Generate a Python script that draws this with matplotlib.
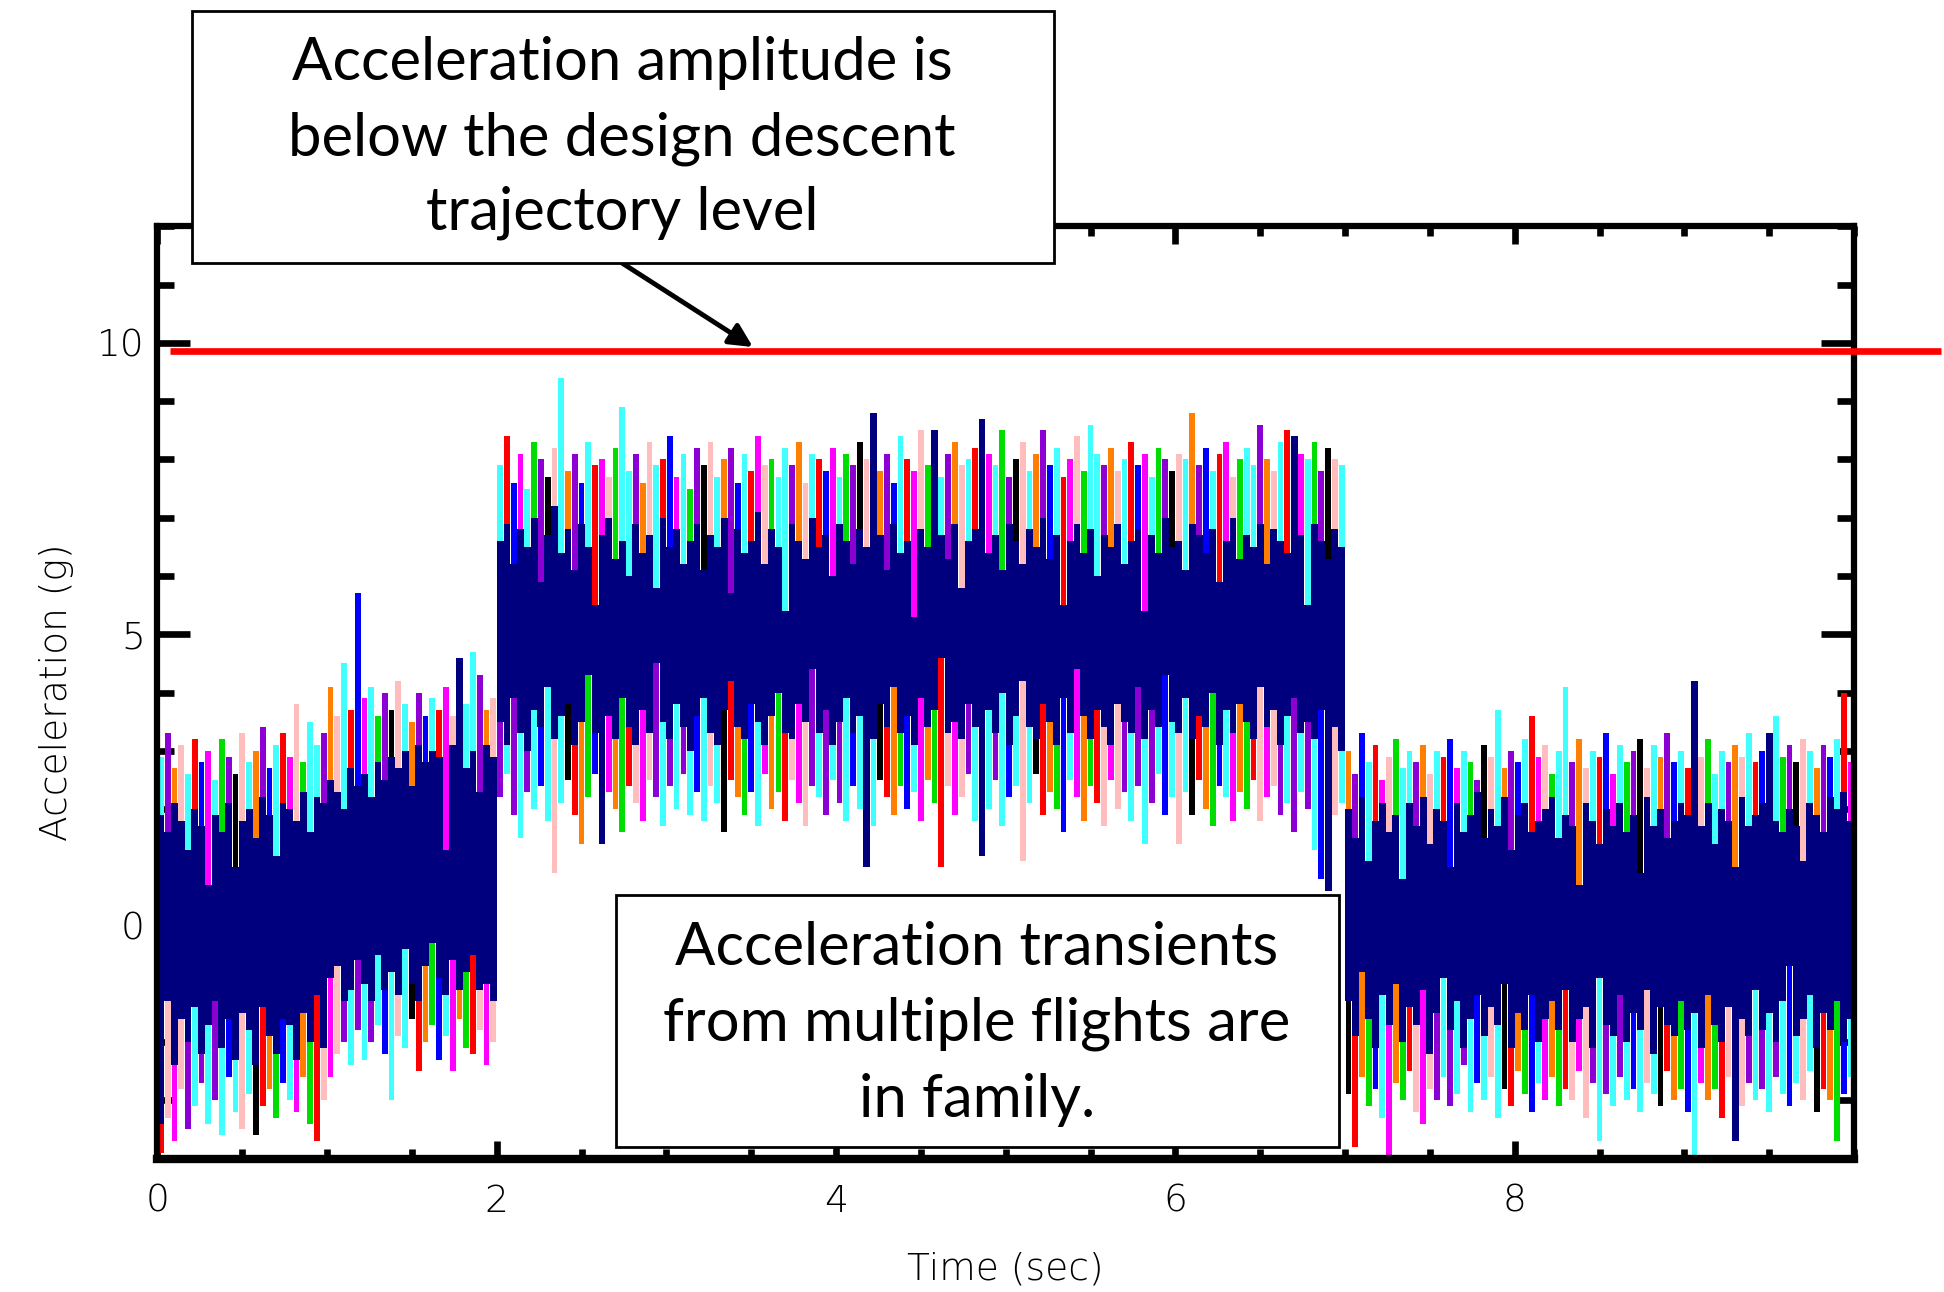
import matplotlib
matplotlib.use("Agg")
import matplotlib.pyplot as plt
import numpy as np
from matplotlib.patches import Rectangle, FancyArrowPatch
from matplotlib.ticker import FixedLocator, MultipleLocator

# sample columns (s): 0-2 s, 2-7 s, 7-10 s
t_a = np.linspace(0.02, 1.98, 50)
t_b = np.linspace(2.02, 6.98, 125)
t_c = np.linspace(7.02, 9.98, 75)

# edge of the dense (navy) band, upper / lower, in g
a_navy_hi = [1.9, 1.6, 2.1, 1.8, 1.3, 2.0, 1.7, 0.7, 1.9, 1.6,
             2.1, 1.0, 1.8, 2.0, 1.5, 2.2, 1.9, 1.2, 2.1, 2.0,
             1.8, 2.3, 1.6, 2.2, 2.1, 2.5, 2.3, 2.0, 2.7, 2.4,
             2.6, 2.2, 2.8, 2.5, 2.9, 2.7, 3.0, 2.4, 3.1, 2.8,
             3.0, 2.9, 1.3, 3.1, 4.6, 2.7, 3.0, 2.3, 3.1, 2.9]
a_navy_lo = [-3.4, -1.3, -2.4, -1.6, -2.0, -1.4, -2.2, -1.7, -1.3, -2.1,
             -1.6, -2.3, -1.5, -1.8, -2.4, -1.4, -1.9, -2.2, -1.6, -1.7,
             -2.3, -1.5, -2.0, -1.2, -2.1, -0.9, -0.7, -1.3, -1.1, -0.6,
             -1.0, -1.3, -0.5, -1.1, -0.8, -1.2, -0.4, -1.0, -1.3, -0.7,
             -0.3, -0.9, -1.2, -0.6, -1.1, -0.8, -0.5, -1.1, -1.0, -1.3]
# extreme of the other flights, upper / lower
a_peak_hi = [2.9, 3.3, 2.7, 3.1, 2.6, 3.2, 2.8, 3.0, 2.5, 3.2,
             2.9, 2.6, 3.3, 2.8, 3.0, 3.4, 2.7, 3.1, 3.3, 2.9,
             3.8, 2.8, 3.5, 3.1, 3.3, 4.1, 3.6, 4.5, 3.7, 5.7,
             3.9, 4.1, 3.6, 4.0, 3.7, 4.2, 3.8, 3.5, 4.0, 3.6,
             3.9, 3.7, 4.1, 3.6, 4.0, 3.8, 4.7, 4.3, 3.7, 3.9]
a_peak_lo = [-3.9, -3.3, -3.7, -2.8, -3.5, -3.1, -2.7, -3.4, -3.0, -3.6,
             -2.6, -3.2, -3.5, -2.9, -3.6, -3.1, -2.8, -3.3, -2.7, -3.0,
             -3.2, -2.6, -3.4, -3.7, -3.0, -2.6, -2.2, -2.0, -2.4, -1.8,
             -2.3, -2.0, -1.7, -2.2, -3.0, -1.9, -2.1, -1.6, -2.5, -2.0,
             -1.7, -2.3, -1.9, -2.5, -1.6, -2.1, -2.2, -1.8, -2.4, -2.0]

b_navy_hi = [6.6, 6.9, 6.2, 6.8, 6.5, 7.0, 5.9, 6.7, 7.2, 6.4,
             6.8, 6.1, 6.9, 6.5, 5.5, 6.7, 7.0, 6.3, 6.6, 6.0,
             6.9, 6.4, 6.7, 5.8, 7.0, 6.5, 6.8, 6.2, 6.6, 6.9,
             6.1, 6.7, 6.5, 7.0, 5.7, 6.8, 6.4, 6.6, 7.1, 6.2,
             6.8, 6.5, 5.4, 6.9, 6.6, 6.3, 7.0, 6.5, 6.7, 6.0,
             6.9, 6.6, 6.2, 6.8, 6.5, 8.8, 6.7, 6.1, 6.9, 6.4,
             6.6, 5.3, 6.8, 6.5, 8.5, 6.7, 6.3, 6.9, 5.8, 6.6,
             6.8, 8.7, 6.4, 6.7, 6.1, 6.9, 6.6, 6.2, 6.8, 6.5,
             7.0, 6.3, 6.7, 5.5, 6.6, 6.9, 6.4, 6.8, 6.0, 6.7,
             6.5, 6.9, 6.2, 6.6, 6.8, 5.4, 6.7, 6.4, 7.0, 6.5,
             6.6, 6.1, 6.9, 6.7, 6.4, 6.8, 5.9, 6.6, 7.0, 6.3,
             6.7, 6.5, 6.9, 6.2, 6.8, 6.6, 6.4, 8.4, 6.7, 5.5,
             6.9, 6.6, 6.3, 6.8, 6.5]
b_navy_lo = [3.5, 3.1, 3.9, 3.3, 3.0, 3.7, 3.4, 4.1, 3.2, 3.6,
             3.8, 3.1, 3.5, 4.3, 3.3, 1.4, 3.6, 3.2, 3.9, 3.4,
             3.1, 3.7, 3.3, 4.5, 3.5, 3.2, 3.8, 3.4, 3.0, 3.6,
             3.9, 3.3, 3.1, 3.7, 4.2, 3.4, 3.2, 3.8, 3.5, 3.1,
             3.6, 4.0, 3.3, 3.2, 3.8, 3.5, 4.4, 3.3, 3.7, 3.1,
             3.5, 3.9, 3.3, 3.6, 1.0, 3.2, 3.8, 3.4, 4.1, 3.3,
             3.6, 3.1, 3.9, 3.4, 3.7, 4.6, 3.3, 3.5, 3.2, 3.8,
             3.4, 1.2, 3.7, 3.3, 4.0, 3.1, 3.6, 4.2, 3.4, 3.2,
             3.8, 3.5, 3.1, 3.9, 3.3, 4.4, 3.6, 3.2, 3.7, 3.4,
             3.1, 3.8, 3.5, 3.3, 4.1, 3.2, 3.7, 3.4, 4.3, 3.5,
             3.3, 3.9, 3.2, 3.6, 3.4, 4.0, 3.1, 3.7, 3.3, 3.8,
             3.5, 3.2, 4.1, 3.4, 3.7, 3.1, 3.6, 3.9, 3.3, 3.5,
             3.2, 3.7, 0.6, 3.4, 3.0]
b_peak_hi = [7.9, 8.4, 7.6, 8.1, 7.5, 8.3, 8.0, 7.7, 8.2, 9.4,
             7.8, 8.1, 7.6, 8.3, 7.9, 8.0, 7.7, 8.2, 8.9, 7.8,
             8.1, 7.6, 8.3, 7.9, 8.0, 8.4, 7.7, 8.1, 7.5, 8.2,
             7.9, 8.3, 7.7, 8.0, 8.2, 7.6, 8.1, 7.8, 8.4, 7.9,
             8.0, 7.7, 8.2, 7.9, 8.3, 7.6, 8.1, 8.0, 7.8, 8.2,
             7.7, 8.1, 7.9, 8.3, 8.0, 8.2, 7.8, 8.1, 7.6, 8.4,
             8.0, 7.8, 8.5, 7.9, 8.2, 7.7, 8.1, 8.3, 7.9, 8.0,
             8.2, 7.8, 8.1, 7.9, 8.5, 7.7, 8.0, 8.3, 7.8, 8.1,
             8.5, 7.9, 8.2, 7.7, 8.0, 8.4, 7.8, 8.6, 8.1, 7.9,
             8.2, 7.8, 8.0, 8.3, 7.9, 8.1, 7.7, 8.2, 8.0, 7.8,
             8.1, 8.0, 8.8, 7.9, 8.2, 7.8, 8.1, 8.3, 7.7, 8.0,
             8.2, 7.9, 8.6, 8.0, 7.8, 8.3, 8.5, 7.9, 8.1, 8.0,
             8.3, 7.8, 8.2, 8.0, 7.9]
b_peak_lo = [2.2, 2.6, 1.9, 1.5, 2.3, 2.0, 2.4, 1.8, 0.9, 2.1,
             2.5, 1.9, 1.4, 2.2, 2.6, 1.8, 2.3, 2.0, 1.6, 2.4,
             2.1, 1.8, 2.5, 2.2, 1.7, 2.4, 2.0, 2.6, 1.9, 2.3,
             1.8, 2.4, 2.1, 1.6, 2.5, 2.2, 1.9, 2.3, 1.7, 2.6,
             2.0, 2.3, 1.8, 2.5, 2.1, 1.7, 2.4, 2.2, 1.9, 2.5,
             2.1, 1.8, 2.4, 2.0, 2.3, 1.7, 2.5, 2.2, 1.9, 2.4,
             2.0, 2.3, 1.8, 2.5, 2.1, 1.0, 2.4, 1.9, 2.2, 2.6,
             1.8, 2.3, 2.0, 2.5, 1.7, 2.2, 2.4, 1.1, 2.1, 2.6,
             1.9, 2.3, 2.0, 1.6, 2.5, 2.2, 1.8, 2.4, 2.1, 1.7,
             2.5, 2.0, 2.3, 1.8, 2.4, 1.4, 2.1, 2.6, 1.9, 2.2,
             1.4, 2.3, 1.9, 2.5, 2.0, 1.7, 2.4, 2.2, 1.8, 2.3,
             2.0, 2.5, 1.8, 2.2, 2.4, 1.9, 2.1, 1.6, 2.3, 2.0,
             1.3, 0.8, 2.2, 1.9, 2.1]

c_navy_hi = [2.0, 1.5, 2.2, 1.1, 1.8, 2.1, 1.6, 1.9, 0.8, 2.1,
             1.7, 2.2, 1.4, 2.0, 1.8, 1.0, 2.1, 1.6, 1.9, 2.3,
             1.5, 2.0, 1.7, 2.2, 1.3, 1.9, 2.1, 1.6, 1.8, 2.0,
             2.2, 1.5, 1.9, 1.7, 0.7, 2.1, 1.8, 1.4, 2.0, 1.7,
             2.1, 1.6, 1.9, 0.9, 2.2, 1.7, 2.0, 1.5, 1.8, 2.1,
             1.9, 4.2, 1.7, 2.1, 1.4, 2.0, 1.8, 1.0, 2.2, 1.7,
             1.9, 2.1, 3.3, 1.8, 1.6, 2.0, 1.7, 1.1, 2.1, 1.9,
             1.6, 2.2, 2.0, 2.3, 1.8]
c_navy_lo = [-1.3, -1.9, -0.8, -1.6, -2.1, -1.2, -1.7, -1.0, -2.0, -1.4,
             -1.7, -1.1, -2.2, -1.5, -0.9, -1.8, -1.3, -2.1, -1.6, -1.2,
             -1.9, -1.4, -1.7, -1.0, -2.1, -1.5, -1.8, -1.2, -2.0, -1.6,
             -1.3, -1.8, -1.1, -2.0, -1.6, -1.4, -2.1, -0.9, -1.7, -1.9,
             -1.2, -2.0, -1.5, -1.8, -1.1, -2.2, -1.4, -1.7, -1.9, -1.3,
             -1.8, -1.5, -2.1, -1.2, -1.7, -2.0, -1.4, -3.7, -1.6, -1.9,
             -1.1, -1.8, -1.5, -2.0, -1.3, -0.7, -1.9, -1.6, -1.2, -2.1,
             -1.5, -1.8, -1.3, -2.0, -1.6]
c_peak_hi = [3.0, 2.6, 3.3, 2.8, 3.1, 2.5, 2.9, 3.2, 2.7, 3.0,
             2.8, 3.1, 2.6, 3.0, 2.9, 3.2, 2.7, 3.0, 2.8, 2.5,
             3.1, 2.9, 3.7, 2.7, 3.0, 2.8, 3.2, 3.6, 2.9, 3.1,
             2.6, 3.0, 4.1, 2.8, 3.2, 2.7, 3.0, 2.9, 3.3, 2.6,
             3.1, 2.8, 3.0, 3.2, 2.7, 3.1, 2.9, 3.3, 2.8, 3.0,
             2.7, 3.0, 2.9, 3.2, 2.6, 3.0, 2.8, 3.1, 2.9, 3.3,
             2.8, 3.0, 2.7, 3.6, 2.9, 3.1, 2.8, 3.2, 3.0, 2.7,
             3.1, 2.9, 3.2, 4.0, 2.8]
c_peak_lo = [-2.9, -3.8, -2.6, -3.1, -2.8, -3.3, -4.1, -2.7, -3.0, -2.5,
             -3.2, -3.4, -2.8, -3.0, -2.6, -3.1, -2.9, -2.4, -3.2, -2.7,
             -3.0, -2.6, -3.3, -2.8, -3.1, -2.5, -2.9, -3.2, -2.7, -3.0,
             -2.6, -3.1, -2.8, -3.0, -2.5, -3.3, -2.7, -3.7, -2.9, -3.1,
             -2.6, -3.0, -2.8, -3.2, -2.7, -2.9, -3.1, -2.5, -3.0, -2.8,
             -3.2, -4.1, -2.7, -3.0, -2.8, -3.3, -2.6, -2.9, -3.1, -2.7,
             -3.0, -2.8, -3.2, -2.6, -2.9, -3.1, -2.7, -3.0, -2.5, -3.2,
             -2.8, -3.0, -3.7, -2.9, -2.6]

design_level = 9.86
x_ticks = [0, 2, 4, 6, 8]
y_ticks = [0, 5, 10]
note_top = ["Acceleration amplitude is", "below the design descent", "trajectory level"]
note_bottom = ["Acceleration transients", "from multiple flights are", "in family."]

NAVY = "#00007f"
flight_colors = ["#40ffff", "#8c00d4", "#ff8000", "#ffbdbd", "#40ffff", "#ff0000",
                 "#0000ff", "#ff00ff", "#40ffff", "#00dd00", "#8c00d4", "#000000",
                 "#ffbdbd", "#40ffff", "#ff8000", "#8c00d4", "#0000ff", "#40ffff",
                 "#ff0000", "#ff00ff", "#ffbdbd", "#00dd00", "#40ffff"]


def main():
    time = np.concatenate([t_a, t_b, t_c])
    navy_hi = np.array(a_navy_hi + b_navy_hi + c_navy_hi)
    navy_lo = np.array(a_navy_lo + b_navy_lo + c_navy_lo)
    peak_hi = np.array(a_peak_hi + b_peak_hi + c_peak_hi)
    peak_lo = np.array(a_peak_lo + b_peak_lo + c_peak_lo)
    n = len(time)
    nc = len(flight_colors)
    up_cols = [flight_colors[i % nc] for i in range(n)]
    lo_cols = [flight_colors[(7 * i + 5) % nc] for i in range(n)]

    fig = plt.figure(figsize=(19.44, 12.92), dpi=100)
    ax = fig.add_axes([0.0810, 0.1033, 0.8727, 0.7214])

    ax.bar(time, peak_hi - navy_hi, bottom=navy_hi, width=0.034,
           color=up_cols, linewidth=0, zorder=2)
    ax.bar(time, peak_lo - navy_lo, bottom=navy_lo, width=0.034,
           color=lo_cols, linewidth=0, zorder=2)
    ax.bar(time, navy_hi - navy_lo, bottom=navy_lo, width=0.0405,
           color=NAVY, linewidth=0, antialiased=False, zorder=2.1)

    ax.plot([0.074, 10.51], [design_level, design_level], color="red", lw=4.8,
            solid_capstyle="butt", clip_on=False, zorder=10)

    ax.set_xlim(0, 10)
    ax.set_ylim(-4, 12)
    for side in ["left", "right", "top"]:
        ax.spines[side].set_linewidth(4.5)
    ax.spines["bottom"].set_linewidth(6)

    ax.xaxis.set_major_locator(FixedLocator(x_ticks))
    ax.xaxis.set_minor_locator(MultipleLocator(0.5))
    ax.yaxis.set_major_locator(FixedLocator(y_ticks))
    ax.yaxis.set_minor_locator(MultipleLocator(1))
    ax.tick_params(axis="x", which="major", direction="in", length=13, width=4.8,
                   top=True, pad=18, labelsize=27)
    ax.tick_params(axis="x", which="minor", direction="in", length=7, width=4.8, top=True)
    ax.tick_params(axis="y", which="major", direction="in", length=24, width=4.8,
                   right=True, pad=9, labelsize=27)
    ax.tick_params(axis="y", which="minor", direction="in", length=12, width=4.8, right=True)
    for lab in ax.get_xticklabels() + ax.get_yticklabels():
        lab.set_fontweight("light")

    ax.set_xlabel("Time (sec)", fontsize=27, fontweight="light")
    ax.xaxis.set_label_coords(0.5, -0.10)
    ax.set_ylabel("Acceleration (g)", fontsize=27, fontweight="light")
    ax.yaxis.set_label_coords(-0.049, 0.5)

    # callout boxes
    fig.add_artist(Rectangle((0.0988, 0.7964), 0.4434, 0.1950, transform=fig.transFigure,
                             facecolor="white", edgecolor="black", linewidth=2, zorder=5))
    for line, y in zip(note_top, [0.9381, 0.8793, 0.8220]):
        fig.text(0.320, y, line, ha="center", va="baseline", fontsize=43,
                 family="Lato", zorder=6)
    fig.add_artist(Rectangle((0.3169, 0.1122), 0.3719, 0.1950, transform=fig.transFigure,
                             facecolor="white", edgecolor="black", linewidth=2, zorder=5))
    for line, y in zip(note_bottom, [0.2531, 0.1950, 0.1354]):
        fig.text(0.5026, y, line, ha="center", va="baseline", fontsize=43,
                 family="Lato", zorder=6)

    fig.add_artist(FancyArrowPatch((0.320, 0.7964), (0.3873, 0.7314), transform=fig.transFigure,
                                   arrowstyle="-|>", mutation_scale=35, linewidth=3.5,
                                   color="black", shrinkA=0, shrinkB=0, zorder=4))

    fig.savefig("out.png", dpi=100)


if __name__ == "__main__":
    main()
